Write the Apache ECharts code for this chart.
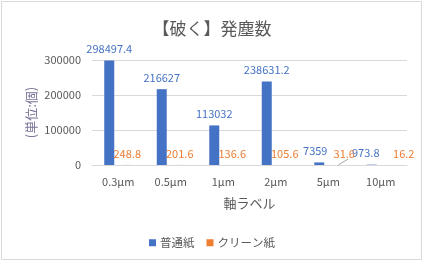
<!DOCTYPE html>
<html>
<head>
<meta charset="utf-8">
<script src="https://cdn.jsdelivr.net/npm/echarts@6/dist/echarts.min.js"></script>
<style>
html,body{margin:0;padding:0;background:#fff;}
#c{width:424px;height:268px;}
</style>
</head>
<body>
<div id="c"></div>
<script>
var categories = ['0.3μm', '0.5μm', '1μm', '2μm', '5μm', '10μm'];
var normalPaper = [298497.4, 216627, 113032, 238631.2, 7359, 973.8];
var cleanPaper = [248.8, 201.6, 136.6, 105.6, 31.6, 16.2];
var seriesNames = ['普通紙', 'クリーン紙'];
var yTicks = [0, 100000, 200000, 300000];

// label horizontal nudges (style only)
var blueShift = [0, 0, 0, 0, -4, -6];
var orangeShift = [0, 0, 0, 0, 7, 14];
var leaderIndex = 4;
var BAR_W = 10, BAR_GAP = 0.8;

var FONT = '"Noto Sans CJK JP", "Noto Sans", sans-serif';
var GREY = '#595959';

var chart = echarts.init(document.getElementById('c'), null, {renderer: 'canvas'});
chart.setOption({
  animation: false,
  backgroundColor: '#fff',
  textStyle: {fontFamily: FONT},
  title: {
    text: '【破く】発塵数',
    left: 'center',
    top: 15,
    textStyle: {fontSize: 17, fontWeight: 'normal', color: GREY, fontFamily: FONT}
  },
  legend: {
    data: seriesNames,
    left: 'center',
    top: 232,
    itemWidth: 7,
    itemHeight: 7,
    itemGap: 12,
    icon: 'rect',
    textStyle: {fontSize: 11.5, color: GREY, fontFamily: FONT, padding: [0, 0, 0, -1]}
  },
  grid: {left: 92, right: 17, top: 60, bottom: 103, containLabel: false},
  xAxis: {
    type: 'category',
    data: categories,
    name: '軸ラベル',
    nameLocation: 'middle',
    nameGap: 32,
    nameTextStyle: {fontSize: 13, color: GREY, fontFamily: FONT},
    axisLine: {lineStyle: {color: '#d9d9d9'}},
    axisTick: {show: false},
    axisLabel: {fontSize: 11, color: GREY, margin: 11, fontFamily: FONT}
  },
  yAxis: {
    type: 'value',
    min: yTicks[0],
    max: yTicks[yTicks.length - 1],
    interval: yTicks[1] - yTicks[0],
    name: '(単位:個)',
    nameLocation: 'middle',
    nameGap: 54,
    nameRotate: 90,
    nameMoveOverlap: false,
    nameTextStyle: {fontSize: 13, color: '#7d7499', fontFamily: FONT},
    axisLine: {show: false},
    axisTick: {show: false},
    axisLabel: {fontSize: 11, color: GREY, margin: 11, fontFamily: FONT,
      formatter: function (v) { return String(v); }},
    splitLine: {lineStyle: {color: '#d9d9d9'}}
  },
  series: [
    {
      name: seriesNames[0],
      type: 'bar',
      data: normalPaper,
      barWidth: BAR_W,
      barGap: (BAR_GAP * 100) + '%',
      itemStyle: {color: '#4472C4'},
      label: {show: true, position: 'top', distance: 6, fontSize: 11, color: '#4472C4', fontFamily: FONT},
      labelLayout: function (p) { return {dx: blueShift[p.dataIndex]}; }
    },
    {
      name: seriesNames[1],
      type: 'bar',
      data: cleanPaper,
      barWidth: BAR_W,
      itemStyle: {color: '#ED7D31'},
      label: {show: true, position: 'top', distance: 6, fontSize: 11, color: '#ED7D31', fontFamily: FONT},
      labelLayout: function (p) { return {dx: orangeShift[p.dataIndex]}; }
    },
    {
      name: 'leader',
      type: 'custom',
      silent: true,
      data: [[leaderIndex, cleanPaper[leaderIndex]]],
      renderItem: function (params, api) {
        var p = api.coord([api.value(0), api.value(1)]);
        var cx = p[0] + (BAR_W + BAR_W * BAR_GAP) / 2;
        return {
          type: 'line',
          shape: {x1: cx + 1, y1: p[1], x2: cx + 11, y2: p[1] - 6},
          style: {stroke: '#a6a6a6', lineWidth: 1, fill: null}
        };
      },
      z: 5
    }
  ],
  graphic: {
    elements: [{
      id: 'frame',
      type: 'rect',
      shape: {x: 1.5, y: 1.5, width: 420, height: 258},
      style: {fill: null, stroke: '#d9d9d9', lineWidth: 1},
      silent: true
    }]
  }
});
</script>
</body>
</html>
